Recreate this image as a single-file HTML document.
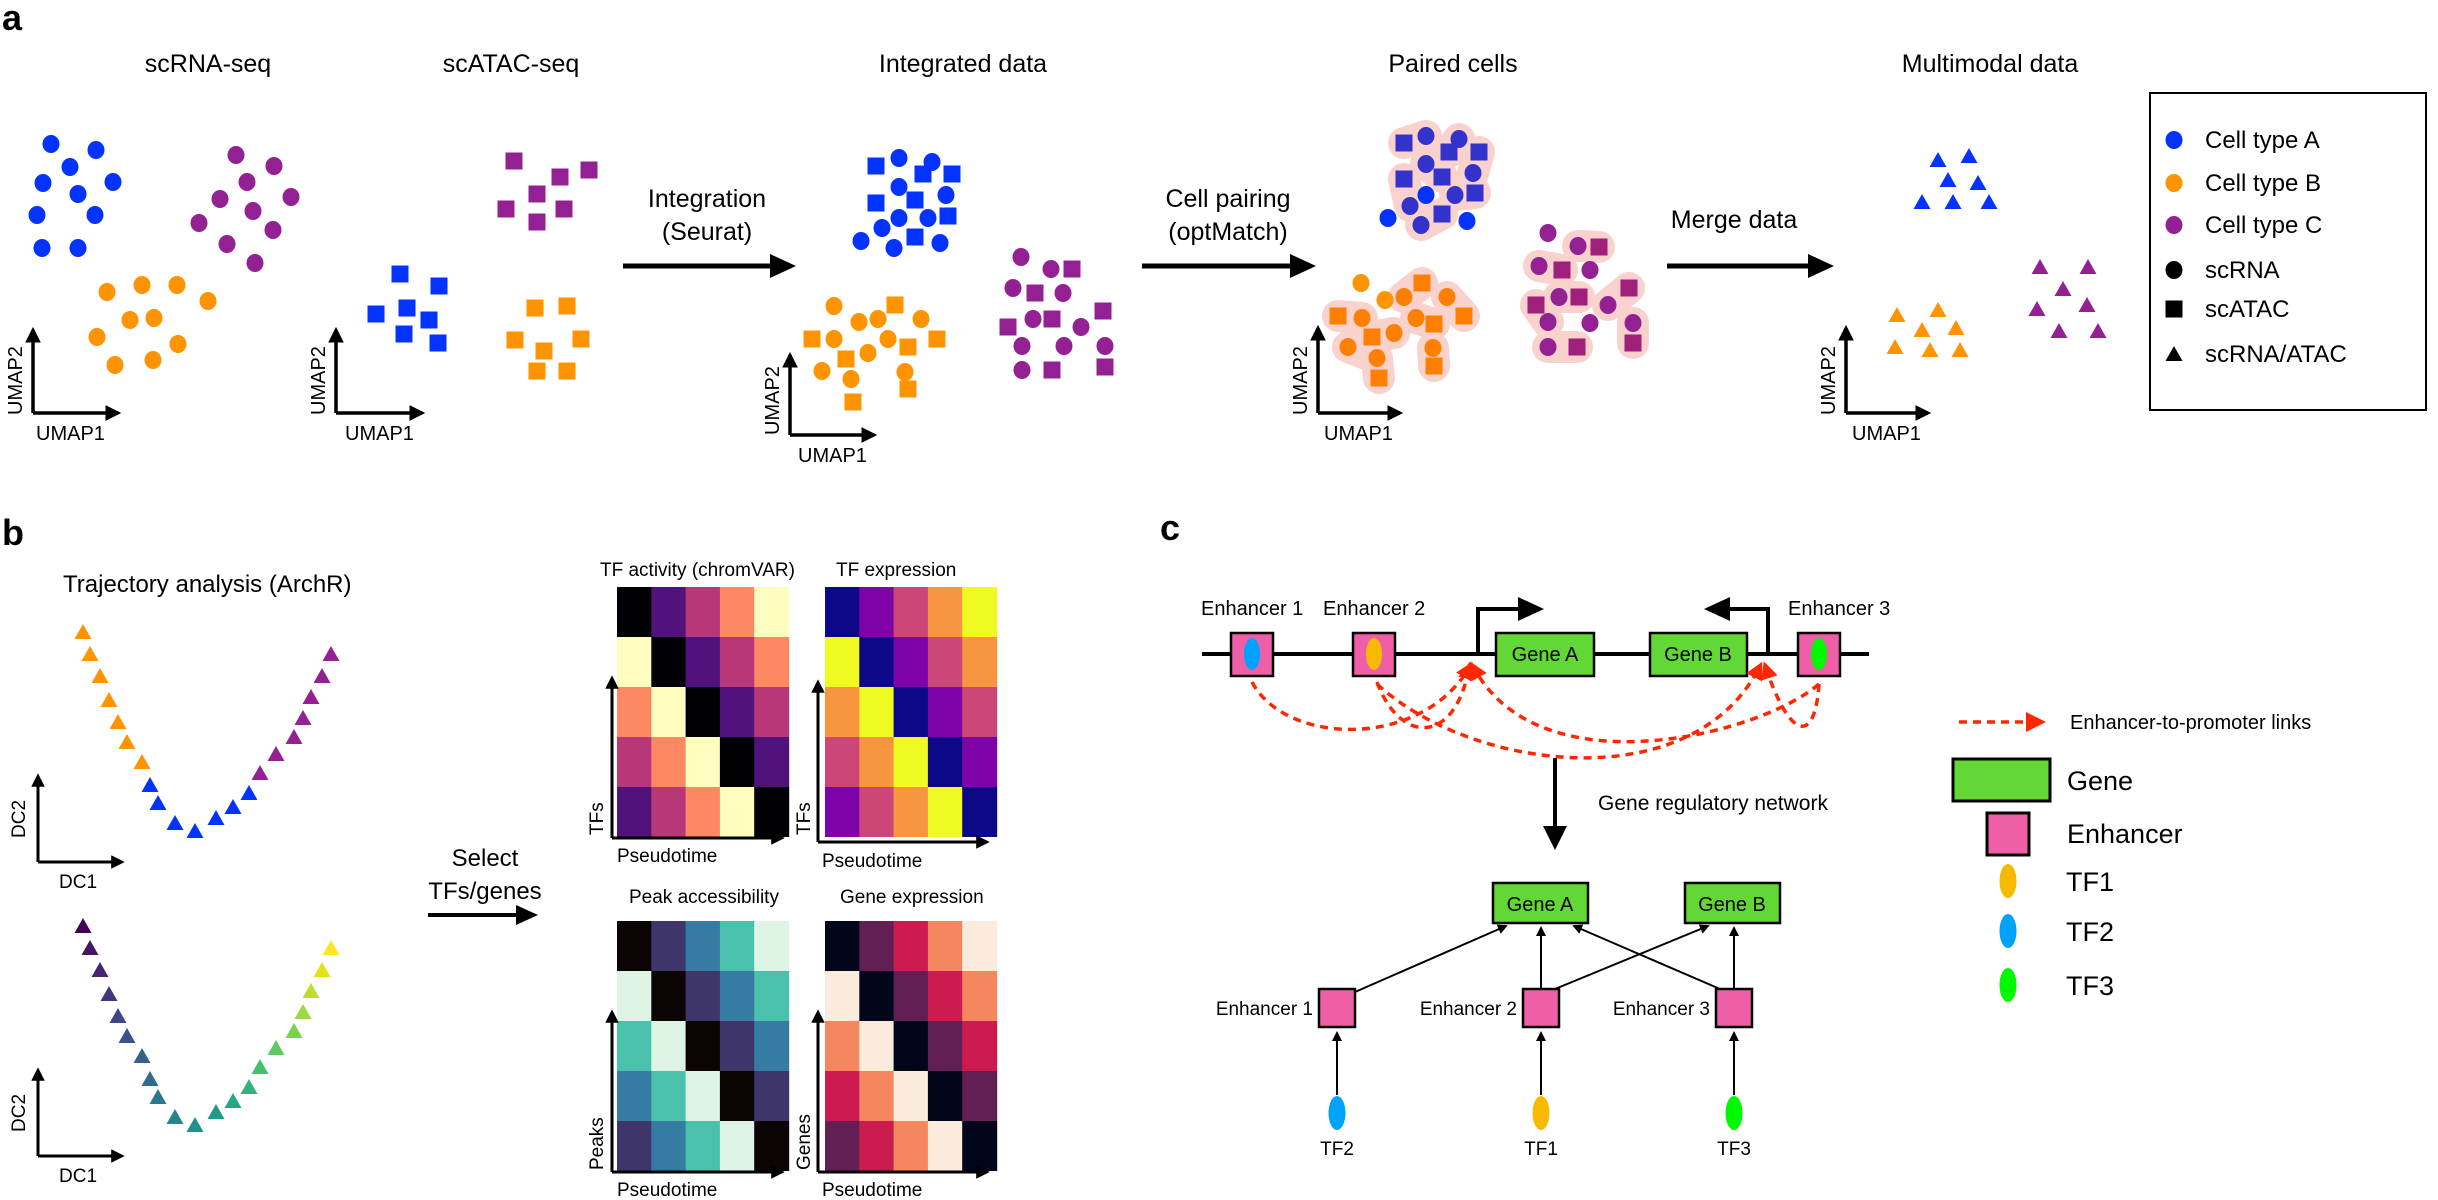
<!DOCTYPE html>
<html><head><meta charset="utf-8">
<style>
html,body{margin:0;padding:0;background:#fff;}
svg{display:block;font-family:"Liberation Sans",Arial,sans-serif;}
</style></head>
<body>
<svg width="2438" height="1200" viewBox="0 0 2438 1200" xmlns="http://www.w3.org/2000/svg">
<defs>
<marker id="ah" viewBox="0 0 10 10" refX="8" refY="5" markerWidth="4.5" markerHeight="4.5" orient="auto" markerUnits="strokeWidth"><path d="M0,0L10,5L0,10Z" fill="#000"/></marker>
<marker id="ahs" viewBox="0 0 10 10" refX="8" refY="5" markerWidth="5" markerHeight="5" orient="auto" markerUnits="strokeWidth"><path d="M0,0L10,5L0,10Z" fill="#000"/></marker>
<marker id="ahr" viewBox="0 0 10 10" refX="6" refY="5" markerWidth="5" markerHeight="5" orient="auto" markerUnits="strokeWidth"><path d="M0,0L10,5L0,10Z" fill="#ff2600"/></marker>
<path id="tri" d="M0,-8L8.5,7L-8.5,7Z"/>
<ellipse id="ci" rx="8.5" ry="9"/>
<rect id="sq" x="-8.5" y="-8.5" width="17" height="17"/>
<g id="hm">
<rect x="0" y="0" width="35" height="50" fill="var(--p0)"/><rect x="34.3" y="0" width="35" height="50" fill="var(--p1)"/><rect x="68.6" y="0" width="35" height="50" fill="var(--p2)"/><rect x="102.9" y="0" width="35" height="50" fill="var(--p3)"/><rect x="137.2" y="0" width="35" height="50" fill="var(--p4)"/>
<rect x="0" y="50" width="35" height="50" fill="var(--p4)"/><rect x="34.3" y="50" width="35" height="50" fill="var(--p0)"/><rect x="68.6" y="50" width="35" height="50" fill="var(--p1)"/><rect x="102.9" y="50" width="35" height="50" fill="var(--p2)"/><rect x="137.2" y="50" width="35" height="50" fill="var(--p3)"/>
<rect x="0" y="100" width="35" height="50" fill="var(--p3)"/><rect x="34.3" y="100" width="35" height="50" fill="var(--p4)"/><rect x="68.6" y="100" width="35" height="50" fill="var(--p0)"/><rect x="102.9" y="100" width="35" height="50" fill="var(--p1)"/><rect x="137.2" y="100" width="35" height="50" fill="var(--p2)"/>
<rect x="0" y="150" width="35" height="50" fill="var(--p2)"/><rect x="34.3" y="150" width="35" height="50" fill="var(--p3)"/><rect x="68.6" y="150" width="35" height="50" fill="var(--p4)"/><rect x="102.9" y="150" width="35" height="50" fill="var(--p0)"/><rect x="137.2" y="150" width="35" height="50" fill="var(--p1)"/>
<rect x="0" y="200" width="35" height="50" fill="var(--p1)"/><rect x="34.3" y="200" width="35" height="50" fill="var(--p2)"/><rect x="68.6" y="200" width="35" height="50" fill="var(--p3)"/><rect x="102.9" y="200" width="35" height="50" fill="var(--p4)"/><rect x="137.2" y="200" width="35" height="50" fill="var(--p0)"/>
</g>
</defs>

<!-- ===== Panel a ===== -->
<text x="2" y="30" font-size="36" font-weight="bold">a</text>
<g font-size="25" text-anchor="middle">
<text x="208" y="72">scRNA-seq</text>
<text x="511" y="72">scATAC-seq</text>
<text x="963" y="72">Integrated data</text>
<text x="1453" y="72">Paired cells</text>
<text x="1990" y="72">Multimodal data</text>
</g>

<g fill="#0433ff">
<use href="#ci" x="51" y="144"/><use href="#ci" x="96" y="150"/><use href="#ci" x="70" y="167"/><use href="#ci" x="43" y="183"/><use href="#ci" x="113" y="182"/><use href="#ci" x="78" y="194"/><use href="#ci" x="37" y="215"/><use href="#ci" x="95" y="215"/><use href="#ci" x="42" y="248"/><use href="#ci" x="78" y="248"/>
</g>
<g fill="#942193">
<use href="#ci" x="236" y="155"/><use href="#ci" x="274" y="166"/><use href="#ci" x="247" y="182"/><use href="#ci" x="220" y="199"/><use href="#ci" x="291" y="197"/><use href="#ci" x="253" y="211"/><use href="#ci" x="273" y="230"/><use href="#ci" x="199" y="223"/><use href="#ci" x="227" y="244"/><use href="#ci" x="255" y="263"/>
</g>
<g fill="#ff9300">
<use href="#ci" x="107" y="292"/><use href="#ci" x="142" y="285"/><use href="#ci" x="177" y="285"/><use href="#ci" x="208" y="301"/><use href="#ci" x="130" y="320"/><use href="#ci" x="154" y="318"/><use href="#ci" x="97" y="337"/><use href="#ci" x="178" y="344"/><use href="#ci" x="115" y="365"/><use href="#ci" x="153" y="360"/>
</g>
<g stroke="#000" stroke-width="3.5" fill="none">
<path d="M33,413V330" marker-end="url(#ah)"/><path d="M33,413H118" marker-end="url(#ah)"/>
<path d="M336,413V330" marker-end="url(#ah)"/><path d="M336,413H422" marker-end="url(#ah)"/>
<path d="M790,435V355" marker-end="url(#ah)"/><path d="M790,435H874" marker-end="url(#ah)"/>
<path d="M1318,413V328" marker-end="url(#ah)"/><path d="M1318,413H1400" marker-end="url(#ah)"/>
<path d="M1846,413V328" marker-end="url(#ah)"/><path d="M1846,413H1928" marker-end="url(#ah)"/>
</g>
<g font-size="20">
<text x="36" y="440">UMAP1</text><text transform="translate(22,415) rotate(-90)">UMAP2</text>
<text x="345" y="440">UMAP1</text><text transform="translate(325,415) rotate(-90)">UMAP2</text>
<text x="798" y="462">UMAP1</text><text transform="translate(779,435) rotate(-90)">UMAP2</text>
<text x="1324" y="440">UMAP1</text><text transform="translate(1307,415) rotate(-90)">UMAP2</text>
<text x="1852" y="440">UMAP1</text><text transform="translate(1835,415) rotate(-90)">UMAP2</text>
</g>

<g fill="#942193">
<use href="#sq" x="514" y="161"/><use href="#sq" x="560" y="177"/><use href="#sq" x="589" y="170"/><use href="#sq" x="537" y="194"/><use href="#sq" x="506" y="209"/><use href="#sq" x="564" y="209"/><use href="#sq" x="537" y="222"/>
</g>
<g fill="#0433ff">
<use href="#sq" x="400" y="274"/><use href="#sq" x="439" y="286"/><use href="#sq" x="376" y="314"/><use href="#sq" x="407" y="308"/><use href="#sq" x="429" y="320"/><use href="#sq" x="404" y="334"/><use href="#sq" x="438" y="343"/>
</g>
<g fill="#ff9300">
<use href="#sq" x="535" y="308"/><use href="#sq" x="567" y="306"/><use href="#sq" x="515" y="340"/><use href="#sq" x="581" y="339"/><use href="#sq" x="544" y="351"/><use href="#sq" x="537" y="371"/><use href="#sq" x="567" y="371"/>
</g>

<g stroke="#000" stroke-width="5" fill="none">
<path d="M623,266H775"/><path d="M1142,266H1296"/><path d="M1667,266H1814"/>
</g>
<g fill="#000">
<path d="M770,254L796,266L770,278Z"/><path d="M1290,254L1316,266L1290,278Z"/><path d="M1808,254L1834,266L1808,278Z"/>
</g>
<g font-size="25" text-anchor="middle">
<text x="707" y="207">Integration</text><text x="707" y="240">(Seurat)</text>
<text x="1228" y="207">Cell pairing</text><text x="1228" y="240">(optMatch)</text>
<text x="1734" y="228">Merge data</text>
</g>

<g fill="#0433ff">
<use href="#ci" x="899" y="158"/><use href="#ci" x="932" y="162"/><use href="#ci" x="899" y="187"/><use href="#ci" x="946" y="195"/><use href="#ci" x="899" y="218"/><use href="#ci" x="882" y="228"/><use href="#ci" x="861" y="241"/><use href="#ci" x="928" y="218"/><use href="#ci" x="894" y="248"/><use href="#ci" x="940" y="243"/>
<use href="#sq" x="876" y="166"/><use href="#sq" x="923" y="174"/><use href="#sq" x="952" y="174"/><use href="#sq" x="876" y="203"/><use href="#sq" x="915" y="200"/><use href="#sq" x="948" y="216"/><use href="#sq" x="915" y="237"/>
</g>
<g fill="#ff9300">
<use href="#ci" x="834" y="306"/><use href="#ci" x="859" y="322"/><use href="#ci" x="878" y="319"/><use href="#ci" x="921" y="319"/><use href="#ci" x="834" y="339"/><use href="#ci" x="888" y="339"/><use href="#ci" x="868" y="353"/><use href="#ci" x="822" y="371"/><use href="#ci" x="851" y="379"/><use href="#ci" x="905" y="372"/>
<use href="#sq" x="895" y="305"/><use href="#sq" x="812" y="339"/><use href="#sq" x="937" y="339"/><use href="#sq" x="908" y="347"/><use href="#sq" x="846" y="359"/><use href="#sq" x="908" y="389"/><use href="#sq" x="853" y="402"/>
</g>
<g fill="#942193">
<use href="#ci" x="1021" y="257"/><use href="#ci" x="1051" y="269"/><use href="#ci" x="1013" y="288"/><use href="#ci" x="1063" y="293"/><use href="#ci" x="1033" y="319"/><use href="#ci" x="1081" y="327"/><use href="#ci" x="1022" y="346"/><use href="#ci" x="1064" y="346"/><use href="#ci" x="1105" y="346"/><use href="#ci" x="1022" y="370"/>
<use href="#sq" x="1072" y="269"/><use href="#sq" x="1035" y="293"/><use href="#sq" x="1103" y="311"/><use href="#sq" x="1052" y="319"/><use href="#sq" x="1008" y="327"/><use href="#sq" x="1052" y="370"/><use href="#sq" x="1105" y="367"/>
</g>

<g stroke="#fad2cd" stroke-width="32" stroke-linecap="round" stroke-linejoin="round" fill="none">
<path d="M1404,143L1426,136"/><path d="M1449,152L1459,139"/><path d="M1479,152L1473,173"/><path d="M1426,164L1442,177"/><path d="M1404,179L1410,206"/><path d="M1475,193L1455,195"/><path d="M1442,214L1421,225"/>
<path d="M1422,283L1404,297"/><path d="M1447,297L1464,316"/><path d="M1338,316L1362,318"/><path d="M1416,318L1434,324"/><path d="M1372,337L1394,333"/><path d="M1348,347L1377,358L1379,378"/><path d="M1433,348L1434,366"/>
<path d="M1578,246L1599,247"/><path d="M1539,266L1562,270"/><path d="M1559,297L1579,297"/><path d="M1608,305L1629,288"/><path d="M1536,305L1548,322"/><path d="M1577,347L1548,347"/><path d="M1633,343L1633,323"/>
</g>
<g fill="#3333cc">
<use href="#sq" x="1404" y="143"/><use href="#sq" x="1449" y="152"/><use href="#sq" x="1479" y="152"/><use href="#sq" x="1404" y="179"/><use href="#sq" x="1442" y="177"/><use href="#sq" x="1475" y="193"/><use href="#sq" x="1442" y="214"/>
<use href="#ci" x="1426" y="136"/><use href="#ci" x="1459" y="139"/><use href="#ci" x="1426" y="164"/><use href="#ci" x="1473" y="173"/><use href="#ci" x="1410" y="206"/><use href="#ci" x="1455" y="195"/><use href="#ci" x="1421" y="225"/>
</g>
<g fill="#0433ff"><use href="#ci" x="1426" y="195"/><use href="#ci" x="1388" y="218"/><use href="#ci" x="1467" y="221"/></g>
<g fill="#ff9300"><use href="#ci" x="1361" y="283"/><use href="#ci" x="1385" y="300"/></g>
<g fill="#ff7f00">
<use href="#ci" x="1404" y="297"/><use href="#ci" x="1447" y="297"/><use href="#ci" x="1362" y="318"/><use href="#ci" x="1416" y="318"/><use href="#ci" x="1394" y="333"/><use href="#ci" x="1348" y="347"/><use href="#ci" x="1433" y="348"/><use href="#ci" x="1377" y="358"/>
<use href="#sq" x="1422" y="283"/><use href="#sq" x="1338" y="316"/><use href="#sq" x="1464" y="316"/><use href="#sq" x="1434" y="324"/><use href="#sq" x="1372" y="337"/><use href="#sq" x="1434" y="366"/><use href="#sq" x="1379" y="378"/>
</g>
<g fill="#942193">
<use href="#ci" x="1548" y="233"/><use href="#ci" x="1578" y="246"/><use href="#ci" x="1539" y="266"/><use href="#ci" x="1590" y="270"/><use href="#ci" x="1559" y="297"/><use href="#ci" x="1608" y="305"/><use href="#ci" x="1548" y="322"/><use href="#ci" x="1590" y="323"/><use href="#ci" x="1633" y="323"/><use href="#ci" x="1548" y="347"/>
</g>
<g fill="#a01f7a">
<use href="#sq" x="1599" y="247"/><use href="#sq" x="1562" y="270"/><use href="#sq" x="1579" y="297"/><use href="#sq" x="1629" y="288"/><use href="#sq" x="1536" y="305"/><use href="#sq" x="1577" y="347"/><use href="#sq" x="1633" y="343"/>
</g>

<g fill="#0433ff">
<use href="#tri" x="1938" y="160"/><use href="#tri" x="1969" y="156"/><use href="#tri" x="1948" y="180"/><use href="#tri" x="1978" y="183"/><use href="#tri" x="1922" y="202"/><use href="#tri" x="1953" y="202"/><use href="#tri" x="1989" y="202"/>
</g>
<g fill="#ff9300">
<use href="#tri" x="1897" y="315"/><use href="#tri" x="1938" y="310"/><use href="#tri" x="1922" y="330"/><use href="#tri" x="1956" y="328"/><use href="#tri" x="1895" y="347"/><use href="#tri" x="1930" y="350"/><use href="#tri" x="1960" y="350"/>
</g>
<g fill="#942193">
<use href="#tri" x="2040" y="267"/><use href="#tri" x="2088" y="267"/><use href="#tri" x="2063" y="289"/><use href="#tri" x="2037" y="309"/><use href="#tri" x="2087" y="305"/><use href="#tri" x="2059" y="331"/><use href="#tri" x="2098" y="331"/>
</g>

<rect x="2150" y="93" width="276" height="317" fill="none" stroke="#000" stroke-width="2"/>
<g font-size="24">
<use href="#ci" x="2174" y="140" fill="#0433ff"/><text x="2205" y="148">Cell type A</text>
<use href="#ci" x="2174" y="183" fill="#ff9300"/><text x="2205" y="191">Cell type B</text>
<use href="#ci" x="2174" y="225" fill="#942193"/><text x="2205" y="233">Cell type C</text>
<use href="#ci" x="2174" y="270" fill="#000"/><text x="2205" y="278">scRNA</text>
<use href="#sq" x="2174" y="309" fill="#000"/><text x="2205" y="317">scATAC</text>
<use href="#tri" x="2174" y="354" fill="#000"/><text x="2205" y="362">scRNA/ATAC</text>
</g>

<!-- ===== Panel b ===== -->
<text x="2" y="545" font-size="36" font-weight="bold">b</text>
<text x="63" y="592" font-size="24">Trajectory analysis (ArchR)</text>
<g fill="#ff9300"><use href="#tri" x="83" y="632"/><use href="#tri" x="90" y="654"/><use href="#tri" x="100" y="676"/><use href="#tri" x="109" y="700"/><use href="#tri" x="118" y="722"/><use href="#tri" x="127" y="742"/><use href="#tri" x="142" y="762"/></g>
<g fill="#0433ff"><use href="#tri" x="150" y="785"/><use href="#tri" x="158" y="803"/><use href="#tri" x="175" y="823"/><use href="#tri" x="195" y="831"/><use href="#tri" x="216" y="818"/><use href="#tri" x="233" y="807"/><use href="#tri" x="249" y="793"/></g>
<g fill="#942193"><use href="#tri" x="260" y="773"/><use href="#tri" x="276" y="754"/><use href="#tri" x="294" y="737"/><use href="#tri" x="303" y="718"/><use href="#tri" x="311" y="697"/><use href="#tri" x="322" y="676"/><use href="#tri" x="331" y="654"/></g>
<g transform="translate(0,294)">
<use href="#tri" x="83" y="632" fill="#440154"/><use href="#tri" x="90" y="654" fill="#471365"/><use href="#tri" x="100" y="676" fill="#482475"/><use href="#tri" x="109" y="700" fill="#463480"/><use href="#tri" x="118" y="722" fill="#414487"/><use href="#tri" x="127" y="742" fill="#3b528b"/><use href="#tri" x="142" y="762" fill="#355f8d"/>
<use href="#tri" x="150" y="785" fill="#2f6c8e"/><use href="#tri" x="158" y="803" fill="#2a788e"/><use href="#tri" x="175" y="823" fill="#25848e"/><use href="#tri" x="195" y="831" fill="#21918c"/><use href="#tri" x="216" y="818" fill="#1e9c89"/><use href="#tri" x="233" y="807" fill="#22a884"/><use href="#tri" x="249" y="793" fill="#2fb47c"/>
<use href="#tri" x="260" y="773" fill="#44bf70"/><use href="#tri" x="276" y="754" fill="#5ec962"/><use href="#tri" x="294" y="737" fill="#7ad151"/><use href="#tri" x="303" y="718" fill="#9bd93c"/><use href="#tri" x="311" y="697" fill="#bddf26"/><use href="#tri" x="322" y="676" fill="#dfe318"/><use href="#tri" x="331" y="654" fill="#fde725"/>
</g>
<g stroke="#000" stroke-width="3" fill="none">
<path d="M38,862V776" marker-end="url(#ah)"/><path d="M38,862H122" marker-end="url(#ah)"/>
<path d="M38,1156V1070" marker-end="url(#ah)"/><path d="M38,1156H122" marker-end="url(#ah)"/>
</g>
<g font-size="19">
<text x="59" y="888">DC1</text><text transform="translate(25,838) rotate(-90)">DC2</text>
<text x="59" y="1182">DC1</text><text transform="translate(25,1132) rotate(-90)">DC2</text>
</g>
<g font-size="24" text-anchor="middle"><text x="485" y="866">Select</text><text x="485" y="899">TFs/genes</text></g>
<path d="M428,915H520" stroke="#000" stroke-width="4"/><path d="M516,905L538,915L516,925Z"/>

<g font-size="19">
<text x="600" y="576">TF activity (chromVAR)</text>
<text x="836" y="576">TF expression</text>
<text x="629" y="903">Peak accessibility</text>
<text x="840" y="903">Gene expression</text>
</g>
<use href="#hm" x="617" y="587" style="--p0:#000004;--p1:#51127c;--p2:#b73779;--p3:#fc8961;--p4:#fcfdbf"/>
<use href="#hm" x="825" y="587" style="--p0:#0d0887;--p1:#7e03a8;--p2:#cc4778;--p3:#f89540;--p4:#f0f921"/>
<use href="#hm" x="617" y="921" style="--p0:#0b0405;--p1:#3e356b;--p2:#357ba2;--p3:#49c1ad;--p4:#def5e5"/>
<use href="#hm" x="825" y="921" style="--p0:#03051a;--p1:#611f53;--p2:#cb1b4f;--p3:#f4875e;--p4:#faebdd"/>
<g stroke="#000" stroke-width="3" fill="none">
<path d="M612,838V678" marker-end="url(#ah)"/><path d="M612,838H782" marker-end="url(#ah)"/>
<path d="M818,842V682" marker-end="url(#ah)"/><path d="M818,842H987" marker-end="url(#ah)"/>
<path d="M612,1172V1012" marker-end="url(#ah)"/><path d="M612,1172H782" marker-end="url(#ah)"/>
<path d="M818,1172V1012" marker-end="url(#ah)"/><path d="M818,1172H987" marker-end="url(#ah)"/>
</g>
<g font-size="19">
<text x="617" y="862">Pseudotime</text><text x="822" y="867">Pseudotime</text>
<text x="617" y="1196">Pseudotime</text><text x="822" y="1196">Pseudotime</text>
<text transform="translate(603,835) rotate(-90)">TFs</text>
<text transform="translate(810,835) rotate(-90)">TFs</text>
<text transform="translate(603,1170) rotate(-90)">Peaks</text>
<text transform="translate(810,1170) rotate(-90)">Genes</text>
</g>

<!-- ===== Panel c ===== -->
<text x="1160" y="540" font-size="36" font-weight="bold">c</text>
<path d="M1202,654H1869" stroke="#000" stroke-width="4"/>
<g stroke="#000" stroke-width="2.5">
<rect x="1231" y="633" width="42" height="43" fill="#ef5fa7"/>
<rect x="1353" y="633" width="42" height="43" fill="#ef5fa7"/>
<rect x="1798" y="633" width="42" height="43" fill="#ef5fa7"/>
<rect x="1496" y="633" width="98" height="43" fill="#61d836"/>
<rect x="1650" y="633" width="97" height="43" fill="#61d836"/>
</g>
<ellipse cx="1252" cy="654" rx="8" ry="16" fill="#00a2ff"/>
<ellipse cx="1374" cy="654" rx="8" ry="16" fill="#f8ba00"/>
<ellipse cx="1819" cy="654" rx="8" ry="16" fill="#00f900"/>
<g font-size="20">
<text x="1201" y="615">Enhancer 1</text>
<text x="1323" y="615">Enhancer 2</text>
<text x="1788" y="615">Enhancer 3</text>
<text x="1545" y="661" text-anchor="middle">Gene A</text>
<text x="1698" y="661" text-anchor="middle">Gene B</text>
</g>
<path d="M1478,654V609H1522" stroke="#000" stroke-width="4" fill="none"/><path d="M1518,597L1544,609L1518,621Z"/>
<path d="M1768,654V609H1726" stroke="#000" stroke-width="4" fill="none"/><path d="M1730,597L1704,609L1730,621Z"/>
<g stroke="#ff2600" stroke-width="3.5" stroke-dasharray="8,6" fill="none">
<path d="M1252,682C1285,745 1420,750 1469,668" marker-end="url(#ahr)"/>
<path d="M1377,682C1400,745 1455,745 1469,668" marker-end="url(#ahr)"/>
<path d="M1377,684C1470,770 1690,800 1759,668" marker-end="url(#ahr)"/>
<path d="M1819,684C1760,735 1540,790 1474,668" marker-end="url(#ahr)"/>
<path d="M1819,684C1815,745 1790,740 1766,668" marker-end="url(#ahr)"/>
</g>
<path d="M1555,758V830" stroke="#000" stroke-width="4"/><path d="M1543,826L1555,850L1567,826Z"/>
<text x="1598" y="810" font-size="21">Gene regulatory network</text>

<g stroke="#000" stroke-width="2.5">
<rect x="1493" y="883" width="95" height="40" fill="#61d836"/>
<rect x="1685" y="883" width="95" height="40" fill="#61d836"/>
<rect x="1319" y="989" width="36" height="38" fill="#ef5fa7"/>
<rect x="1523" y="989" width="36" height="38" fill="#ef5fa7"/>
<rect x="1716" y="989" width="36" height="38" fill="#ef5fa7"/>
</g>
<g font-size="20" text-anchor="middle">
<text x="1540" y="911">Gene A</text><text x="1732" y="911">Gene B</text>
</g>
<g font-size="19" text-anchor="end">
<text x="1313" y="1015">Enhancer 1</text><text x="1517" y="1015">Enhancer 2</text><text x="1710" y="1015">Enhancer 3</text>
</g>
<g stroke="#000" stroke-width="2" fill="none">
<path d="M1355,992L1506,926" marker-end="url(#ahs)"/>
<path d="M1541,989V928" marker-end="url(#ahs)"/>
<path d="M1555,989L1708,926" marker-end="url(#ahs)"/>
<path d="M1720,989L1574,926" marker-end="url(#ahs)"/>
<path d="M1734,989V928" marker-end="url(#ahs)"/>
<path d="M1337,1095V1033" marker-end="url(#ahs)"/>
<path d="M1541,1095V1033" marker-end="url(#ahs)"/>
<path d="M1734,1095V1033" marker-end="url(#ahs)"/>
</g>
<ellipse cx="1337" cy="1113" rx="8.5" ry="17" fill="#00a2ff"/>
<ellipse cx="1541" cy="1113" rx="8.5" ry="17" fill="#f8ba00"/>
<ellipse cx="1734" cy="1113" rx="8.5" ry="17" fill="#00f900"/>
<g font-size="19" text-anchor="middle">
<text x="1337" y="1155">TF2</text><text x="1541" y="1155">TF1</text><text x="1734" y="1155">TF3</text>
</g>

<path d="M1959,722H2030" stroke="#ff2600" stroke-width="3.5" stroke-dasharray="8,6"/>
<path d="M2026,712L2046,722L2026,732Z" fill="#ff2600"/>
<text x="2070" y="729" font-size="20">Enhancer-to-promoter links</text>
<rect x="1953" y="759" width="97" height="42" fill="#61d836" stroke="#000" stroke-width="3"/>
<text x="2067" y="790" font-size="27">Gene</text>
<rect x="1987" y="813" width="42" height="42" fill="#ef5fa7" stroke="#000" stroke-width="3"/>
<text x="2067" y="843" font-size="27">Enhancer</text>
<ellipse cx="2008" cy="881" rx="8.5" ry="17" fill="#f8ba00"/><text x="2066" y="891" font-size="27">TF1</text>
<ellipse cx="2008" cy="931" rx="8.5" ry="17" fill="#00a2ff"/><text x="2066" y="941" font-size="27">TF2</text>
<ellipse cx="2008" cy="985" rx="8.5" ry="17" fill="#00f900"/><text x="2066" y="995" font-size="27">TF3</text>
</svg>
</body></html>
